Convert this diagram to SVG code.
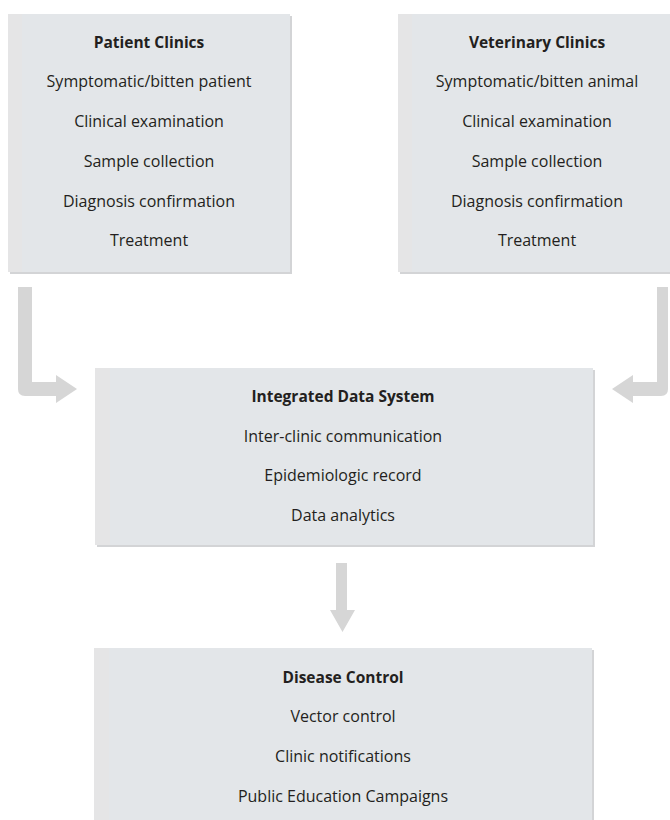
<svg xmlns="http://www.w3.org/2000/svg" width="670" height="820" viewBox="0 0 670 820">
<style>
.box{fill:#e3e6e9}
.shadow{fill:#d3d4d6}
.strip{fill:#e5e5e6}
.arrow{fill:#d6d6d6}
text{font-family:"Open Sans","Noto Sans",sans-serif;font-size:16px;fill:#231f20;text-anchor:middle}
.title{font-weight:bold;font-size:15.5px}
</style>
<rect width="670" height="820" fill="#ffffff"/>
<g id="connectors">
<path class="arrow" d="M18,287 H32 V382 H56 V375 L77,389 L56,403 V396 H25 Q18,396 18,389 Z"/>
<path class="arrow" d="M668,287 H657 V382 H633 V375 L612,389 L633,403 V396 H661 Q668,396 668,389 Z"/>
<path class="arrow" d="M336,563 H347 V610 H355 L342.5,632 L330,610 H336 Z"/>
</g>
<g id="patient-clinics">
<rect class="shadow" x="10" y="16" width="282" height="258"/>
<rect class="box" x="8" y="14" width="282" height="258"/>
<rect class="strip" x="8" y="14" width="14" height="258"/>
<text class="title" x="149" y="48">Patient Clinics</text>
<text x="149" y="87">Symptomatic/bitten patient</text>
<text x="149" y="127">Clinical examination</text>
<text x="149" y="167">Sample collection</text>
<text x="149" y="207">Diagnosis confirmation</text>
<text x="149" y="246">Treatment</text>
</g>
<g id="veterinary-clinics">
<rect class="shadow" x="400" y="16" width="280" height="258"/>
<rect class="box" x="398" y="14" width="280" height="258"/>
<rect class="strip" x="398" y="14" width="14" height="258"/>
<text class="title" x="537" y="48">Veterinary Clinics</text>
<text x="537" y="87">Symptomatic/bitten animal</text>
<text x="537" y="127">Clinical examination</text>
<text x="537" y="167">Sample collection</text>
<text x="537" y="207">Diagnosis confirmation</text>
<text x="537" y="246">Treatment</text>
</g>
<g id="integrated-data-system">
<rect class="shadow" x="97" y="370" width="498" height="177"/>
<rect class="box" x="95" y="368" width="498" height="177"/>
<rect class="strip" x="95" y="368" width="15" height="177"/>
<text class="title" x="343" y="402">Integrated Data System</text>
<text x="343" y="442">Inter-clinic communication</text>
<text x="343" y="481">Epidemiologic record</text>
<text x="343" y="521">Data analytics</text>
</g>
<g id="disease-control">
<rect class="shadow" x="96" y="650" width="498" height="180"/>
<rect class="box" x="94" y="648" width="498" height="180"/>
<rect class="strip" x="94" y="648" width="15" height="180"/>
<text class="title" x="343" y="683">Disease Control</text>
<text x="343" y="722">Vector control</text>
<text x="343" y="762">Clinic notifications</text>
<text x="343" y="802">Public Education Campaigns</text>
</g>
</svg>
